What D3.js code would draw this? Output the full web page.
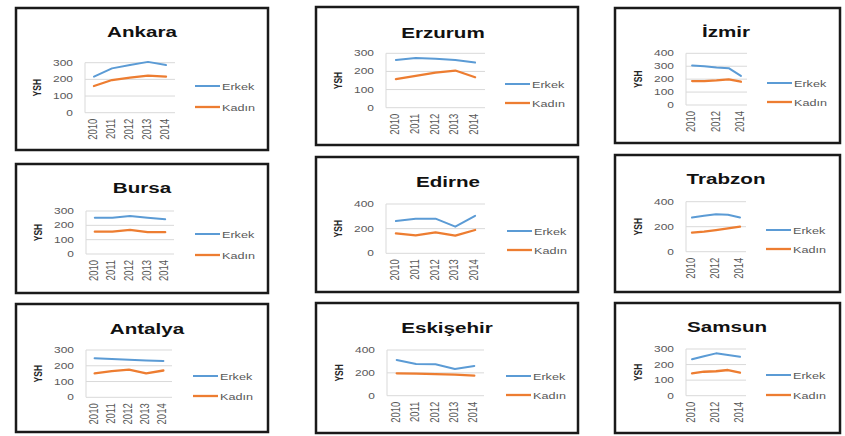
<!DOCTYPE html>
<html><head><meta charset="utf-8">
<script src="https://cdn.jsdelivr.net/npm/d3@7"></script>
<style>body{margin:0;background:#fff}svg{display:block}</style>
</head><body>
<svg id="c" width="845" height="436"></svg>
<script>
// ---- data ----
const years = ["2010","2011","2012","2013","2014"];
const cities = ["Ankara","Erzurum","İzmir","Bursa","Edirne","Trabzon","Antalya","Eskişehir","Samsun"];
const seriesNames = ["Erkek","Kadın"];
const erkek = [
  [216,266,286,305,286],
  [263,274,270,263,249],
  [305,300,290,285,225],
  [253,253,265,253,243],
  [262,281,281,216,304],
  [273,287,300,295,273],
  [247,243,238,234,230],
  [313,278,275,234,260],
  [234,254,272,261,250]
];
const kadin = [
  [160,196,210,222,216],
  [158,175,194,205,168],
  [185,185,190,198,180],
  [156,156,168,152,152],
  [162,146,170,143,189],
  [152,160,173,187,200],
  [152,166,175,152,170],
  [196,193,188,184,175],
  [143,154,157,165,148]
];
const yMax  = [300,300,400,300,400,400,300,400,300];
const yStep = [100,100,100,100,200,200,100,200,100];
const xLabelEvery = [1,1,2,1,1,2,1,1,2];
const yAxisTitle = "YSH";

// ---- layout (positions only) ----
const layout = [
  {box:[16,8,268,150],  px:[85,175],  py:[112.7,62.7], title:[142,31],  leg:[195,86,107]},
  {box:[316,7,578,145], px:[386,485], py:[107.7,53.3], title:[443,32],  leg:[505,84,103]},
  {box:[615,8,840,143], px:[686,747], py:[105,53.3],   title:[726,31],  leg:[767,83,102]},
  {box:[16,164,268,293],px:[86,174],  py:[254,211],    title:[142,187], leg:[195,234,255]},
  {box:[316,157,578,292],px:[386,485],py:[253.3,204],  title:[448,181], leg:[507,231,250]},
  {box:[615,155,840,292],px:[686,746],py:[251.7,201.7],title:[726,178], leg:[766,230,249]},
  {box:[16,304,268,432],px:[86,172],  py:[397.3,350],  title:[147,328], leg:[193,376,396]},
  {box:[316,303,578,433],px:[387,484],py:[395.7,350],  title:[447,327], leg:[506,376,395]},
  {box:[615,303,840,433],px:[686,746],py:[395.7,349],  title:[727,326], leg:[766,375,395]}
];
const SX = 1.33;
const colors = ["#5B9BD5","#ED7D31"];
const font = "'Liberation Sans', Arial, sans-serif";

const svg = d3.select("#c");

cities.forEach((city, i) => {
  const L = layout[i];
  const g = svg.append("g");
  const [bx0,by0,bx1,by1] = L.box;
  g.append("rect").attr("x",bx0).attr("y",by0).attr("width",bx1-bx0).attr("height",by1-by0)
    .attr("fill","#fff").attr("stroke","#1a1a1a").attr("stroke-width",2.5);

  g.append("text").attr("transform",`translate(${L.title[0]},${L.title[1]+5.5}) scale(${SX},1)`)
    .attr("text-anchor","middle").attr("font-family",font).attr("font-weight","bold")
    .attr("font-size",15.5).attr("fill","#111").text(city);

  const x = d3.scalePoint().domain(years).range(L.px).padding(0.5);
  const y = d3.scaleLinear().domain([0,yMax[i]]).range(L.py);
  const ticks = d3.range(0, yMax[i]+1, yStep[i]);

  // gridlines
  g.selectAll(".grid").data(ticks).join("line")
    .attr("x1",L.px[0]).attr("x2",L.px[1]).attr("y1",d=>y(d)).attr("y2",d=>y(d))
    .attr("stroke","#d9d9d9").attr("stroke-width",1);
  // y axis line
  g.append("line").attr("x1",L.px[0]).attr("x2",L.px[0]).attr("y1",y(yMax[i])).attr("y2",y(0))
    .attr("stroke","#d9d9d9").attr("stroke-width",1);

  // y tick labels
  g.selectAll(".yt").data(ticks).join("text")
    .attr("transform",d=>`translate(${L.px[0]-12},${y(d)+3}) scale(${SX},1)`)
    .attr("text-anchor","end").attr("font-family",font).attr("font-size",9)
    .attr("fill","#595959").text(d=>d);

  // x tick labels
  g.selectAll(".xt").data(years.filter((d,k)=>k%xLabelEvery[i]===0)).join("text")
    .attr("transform",d=>`translate(${x(d)+3},${y(0)+6}) scale(${SX},1) rotate(-90)`)
    .attr("text-anchor","end").attr("font-family",font).attr("font-size",9.5)
    .attr("fill","#595959").text(d=>d);

  // y axis title
  g.append("text").attr("transform",`translate(${L.px[0]-44},${(y(0)+y(yMax[i]))/2}) scale(${SX},1) rotate(-90)`)
    .attr("text-anchor","middle").attr("font-family",font).attr("font-weight","bold")
    .attr("font-size",8.5).attr("fill","#262626").text(yAxisTitle);

  // lines
  const line = d3.line().x((d,k)=>x(years[k])).y(d=>y(d));
  [erkek[i], kadin[i]].forEach((vals, s) => {
    g.append("path").attr("d", line(vals)).attr("fill","none")
      .attr("stroke",colors[s]).attr("stroke-width", s===0 ? 2 : 2.3)
      .attr("stroke-linejoin","round").attr("stroke-linecap","round");
  });

  // legend
  seriesNames.forEach((name, s) => {
    const ly = L.leg[1+s];
    g.append("line").attr("x1",L.leg[0]).attr("x2",L.leg[0]+25).attr("y1",ly).attr("y2",ly)
      .attr("stroke",colors[s]).attr("stroke-width", s===0 ? 2 : 2.3);
    g.append("text").attr("transform",`translate(${L.leg[0]+27},${ly+3.5}) scale(${SX},1)`)
      .attr("font-family",font).attr("font-size",9.5).attr("fill","#595959").text(name);
  });
});
</script>
</body></html>
